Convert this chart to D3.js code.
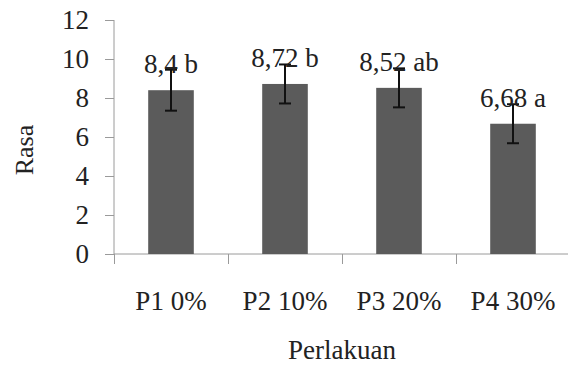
<!DOCTYPE html>
<html>
<head>
<meta charset="utf-8">
<script src="https://cdnjs.cloudflare.com/ajax/libs/d3/7.8.5/d3.min.js"></script>
<style>
  body { margin: 0; background: #fff; }
  text { font-family: "Liberation Serif", "DejaVu Serif", serif; fill: #222; }
  .axis path, .axis line { stroke: #9a9a9a; }
</style>
</head>
<body>
<div id="chart"></div>
<script>
// Data
var categories = ['P1 0%', 'P2 10%', 'P3 20%', 'P4 30%'];
var values = [8.4, 8.72, 8.52, 6.68];
var errors = [1.05, 1.0, 1.0, 1.0];
var labels = ['8,4 b', '8,72 b', '8,52 ab', '6,68 a'];
var yTicks = [0, 2, 4, 6, 8, 10, 12];

var width = 568, height = 365;
var plotLeft = 114, plotRight = 570, plotTop = 20, plotBottom = 254;
var fontSize = '27px';

var svg = d3.select('#chart').append('svg')
    .attr('width', width)
    .attr('height', height);

// Scales
var x = d3.scaleBand()
    .domain(categories)
    .range([plotLeft, plotRight])
    .paddingInner(0.6)
    .paddingOuter(0.3);

var y = d3.scaleLinear()
    .domain([0, 12])
    .range([plotBottom, plotTop]);

function cx(i) { return x(categories[i]) + x.bandwidth() / 2; }

// Y axis
var yAxis = d3.axisLeft(y)
    .tickValues(yTicks)
    .tickSize(9)
    .tickPadding(16);
svg.append('g')
    .attr('class', 'axis')
    .attr('transform', 'translate(' + plotLeft + ',0)')
    .call(yAxis)
    .call(function(g) { g.select('.domain').attr('d', 'M0,' + plotTop + 'V' + plotBottom); })
    .selectAll('text')
    .attr('font-family', null)
    .attr('font-size', null)
    .style('font-size', fontSize);

// X axis - ticks at band boundaries
var xb = d3.scaleLinear().domain([0, categories.length]).range([plotLeft, plotRight]);
var xAxis = d3.axisBottom(xb)
    .tickValues(d3.range(categories.length + 1))
    .tickSize(10)
    .tickFormat('');
svg.append('g')
    .attr('class', 'axis')
    .attr('transform', 'translate(0,' + plotBottom + ')')
    .call(xAxis)
    .call(function(g) { g.select('.domain').attr('d', 'M' + plotLeft + ',0H' + plotRight); });

// Category labels
svg.selectAll('.cat').data(categories)
    .enter().append('text')
    .attr('class', 'cat')
    .attr('x', function(d, i) { return cx(i); })
    .attr('y', 310)
    .attr('text-anchor', 'middle')
    .style('font-size', fontSize)
    .text(function(d) { return d; });

// Bars
svg.selectAll('.bar').data(values)
    .enter().append('rect')
    .attr('class', 'bar')
    .attr('x', function(d, i) { return x(categories[i]); })
    .attr('y', function(d) { return y(d); })
    .attr('width', x.bandwidth())
    .attr('height', function(d) { return y(0) - y(d); })
    .attr('fill', '#5b5b5b');

// Error bars
var capW = 6;
var err = svg.selectAll('.err').data(values)
    .enter().append('g')
    .attr('class', 'err')
    .attr('stroke', '#111')
    .attr('stroke-width', 2);
err.append('line')
    .attr('x1', function(d, i) { return cx(i); })
    .attr('x2', function(d, i) { return cx(i); })
    .attr('y1', function(d, i) { return y(d + errors[i]); })
    .attr('y2', function(d, i) { return y(d - errors[i]); });
err.append('line')
    .attr('x1', function(d, i) { return cx(i) - capW; })
    .attr('x2', function(d, i) { return cx(i) + capW; })
    .attr('y1', function(d, i) { return y(d + errors[i]); })
    .attr('y2', function(d, i) { return y(d + errors[i]); });
err.append('line')
    .attr('x1', function(d, i) { return cx(i) - capW; })
    .attr('x2', function(d, i) { return cx(i) + capW; })
    .attr('y1', function(d, i) { return y(d - errors[i]); })
    .attr('y2', function(d, i) { return y(d - errors[i]); });

// Value labels
svg.selectAll('.val').data(values)
    .enter().append('text')
    .attr('class', 'val')
    .attr('x', function(d, i) { return cx(i); })
    .attr('y', function(d) { return y(d) - 17; })
    .attr('text-anchor', 'middle')
    .style('font-size', fontSize)
    .text(function(d, i) { return labels[i]; });

// Axis titles
svg.append('text')
    .attr('transform', 'translate(33,150) rotate(-90)')
    .attr('text-anchor', 'middle')
    .style('font-size', '26px')
    .text('Rasa');

svg.append('text')
    .attr('x', (plotLeft + plotRight) / 2)
    .attr('y', 359)
    .attr('text-anchor', 'middle')
    .style('font-size', fontSize)
    .text('Perlakuan');
</script>
</body>
</html>
